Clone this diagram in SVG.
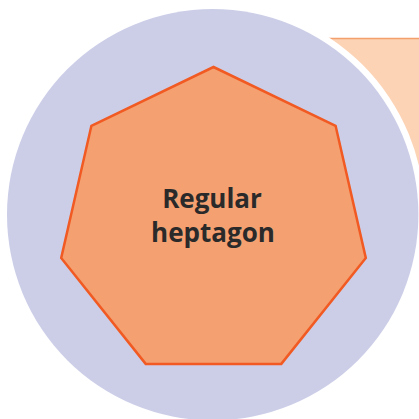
<svg xmlns="http://www.w3.org/2000/svg" width="419" height="419" viewBox="0 0 419 419">
<style>
.lbl{font-family:"Open Sans","Liberation Sans",sans-serif;font-weight:700;font-size:26px;fill:#2a2a2a;text-anchor:middle}
</style>
<rect width="419" height="419" fill="#ffffff"/>
<g id="card">
<rect x="300" y="38.5" width="160" height="165" fill="#FCD3B5" stroke="#F4A06E" stroke-width="1.5"/>
</g>
<g id="circle">
<circle cx="212.7" cy="214.7" r="212" fill="#ffffff"/>
<circle cx="212.7" cy="214.7" r="205.7" fill="#CCCEE8"/>
</g>
<g id="heptagon">
<polygon points="213.5,67 335.6,125.8 365.8,258 281.3,363.9 145.7,363.9 61.2,258 91.4,125.8" fill="#F5A070" stroke="#F15A22" stroke-width="2.5" stroke-linejoin="miter"/>
<text class="lbl" x="212" y="208">Regular</text>
<text class="lbl" x="213" y="242">heptagon</text>
</g>
</svg>
